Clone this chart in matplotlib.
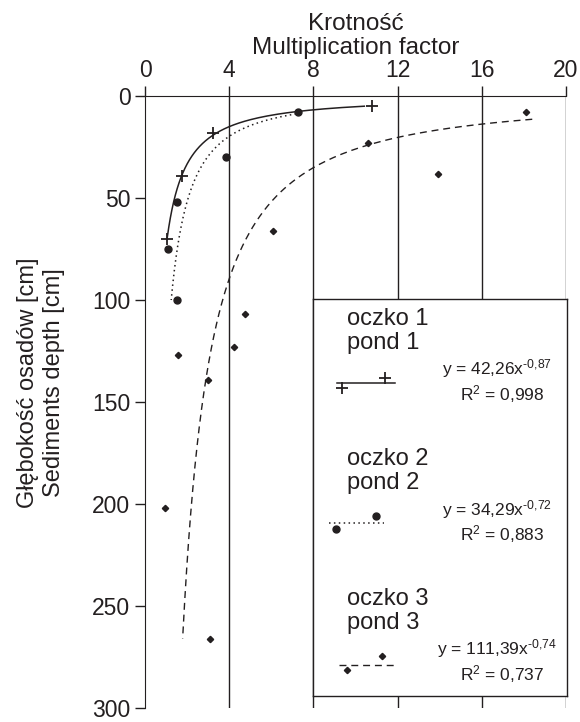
import matplotlib.pyplot as plt
import numpy as np

plt.rcParams['font.family'] = ['Liberation Sans', 'DejaVu Sans']
plt.rcParams['mathtext.fontset'] = 'custom'
plt.rcParams['mathtext.rm'] = 'Liberation Sans'
plt.rcParams['mathtext.default'] = 'regular'

ink = '#231f20'

# measured points: multiplication factor vs. sediment depth [cm]
pond1_x = [10.77, 3.25, 1.74, 1.03]
pond1_y = [5, 18, 39, 70]
pond2_x = [7.28, 3.85, 1.54, 1.11, 1.54]
pond2_y = [8, 30, 52, 75, 100]
pond3_x = [18.08, 10.58, 13.9, 6.07, 4.75, 4.23, 1.58, 2.98, 0.97, 3.09]
pond3_y = [8, 23, 38, 66, 107, 123, 127, 139, 202, 266]

# power trend lines  x = a * depth^b
coef_a = [42.26, 34.29, 111.39]
coef_b = [-0.87, -0.72, -0.74]
depth_range = [(5, 70), (8.4, 100), (11.4, 266)]
r2 = ['0,998', '0,883', '0,737']
eq_a = ['42,26', '34,29', '111,39']
eq_b = ['\u20100{,}87', '\u20100{,}72', '\u20100{,}74']
names = ['oczko 1\npond 1', 'oczko 2\npond 2', 'oczko 3\npond 3']

fig = plt.figure(figsize=(5.8, 7.22), dpi=100)
ax = fig.add_axes([145 / 580, 14 / 722, 421 / 580, 612 / 722])

styles = [dict(ls='-', lw=1.1), dict(ls=(0, (1, 2.2)), lw=1.1), dict(ls=(0, (5, 3.5)), lw=1.0)]
marks = [dict(marker='+', ms=9, mew=1.3), dict(marker='o', ms=5), dict(marker='D', ms=3.2)]
pts = [(pond1_x, pond1_y), (pond2_x, pond2_y), (pond3_x, pond3_y)]

for i in range(3):
    d = np.linspace(depth_range[i][0], depth_range[i][1], 300)
    ax.plot(coef_a[i] * d ** coef_b[i], d, color=ink, zorder=3, **styles[i])
    ax.plot(pts[i][0], pts[i][1], ls='none', color=ink, zorder=4, **marks[i])

ax.set_xlim(0, 20)
ax.set_ylim(300, 0)
ax.xaxis.tick_top()
ax.xaxis.set_label_position('top')
ax.set_xticks(np.arange(0, 21, 4))
ax.set_yticks(np.arange(0, 301, 50))
ax.tick_params(axis='both', colors=ink, labelsize=16.5, direction='out', length=7, width=1)
ax.tick_params(axis='x', pad=3)
for s in ['bottom', 'right']:
    ax.spines[s].set_visible(False)
for s in ['top', 'left']:
    ax.spines[s].set_color(ink)
for xv in np.arange(4, 21, 4):
    ax.axvline(xv, color=ink, lw=1, zorder=1)

ax.set_xlabel('Krotność\nMultiplication factor', fontsize=17.5, color=ink, labelpad=4, linespacing=1.1)
fig.text(41 / 580, 1 - 383 / 722, 'Głębokość osadów [cm]\nSediments depth [cm]', rotation=90,
         ha='center', va='center', fontsize=17, color=ink, linespacing=1.25)

# legend box
lg = fig.add_axes([313 / 580, 26 / 722, 254 / 580, 397 / 722])
lg.set_xlim(0, 254)
lg.set_ylim(397, 0)
lg.set_xticks([])
lg.set_yticks([])
for s in lg.spines.values():
    s.set_color(ink)
    s.set_linewidth(1)

title_y = [23, 163, 303]
line_y = [84, 224, 366]
line_x = [(24, 82), (16, 71), (26, 82)]
mark_pos = [[(29, 89), (72, 79)], [(23, 230), (63, 217)], [(34, 371), (69, 357)]]
eq_y = [75, 216, 355]
r_y = [101, 241, 381]
for i in range(3):
    lg.text(34, title_y[i] + 27, names[i], fontsize=17, color=ink, va='baseline', linespacing=1.1)
    lg.plot(line_x[i], [line_y[i], line_y[i]], color=ink, **styles[i])
    lg.plot([p[0] for p in mark_pos[i]], [p[1] for p in mark_pos[i]], ls='none', color=ink, **marks[i])
    lg.text(184, eq_y[i], 'y = ' + eq_a[i] + 'x$^{' + eq_b[i] + '}$', fontsize=12.5, color=ink,
            ha='center', va='baseline')
    lg.text(189, r_y[i], 'R$^{2}$ = ' + r2[i], fontsize=12.5, color=ink, ha='center', va='baseline')

fig.savefig('out.png', dpi=100)
